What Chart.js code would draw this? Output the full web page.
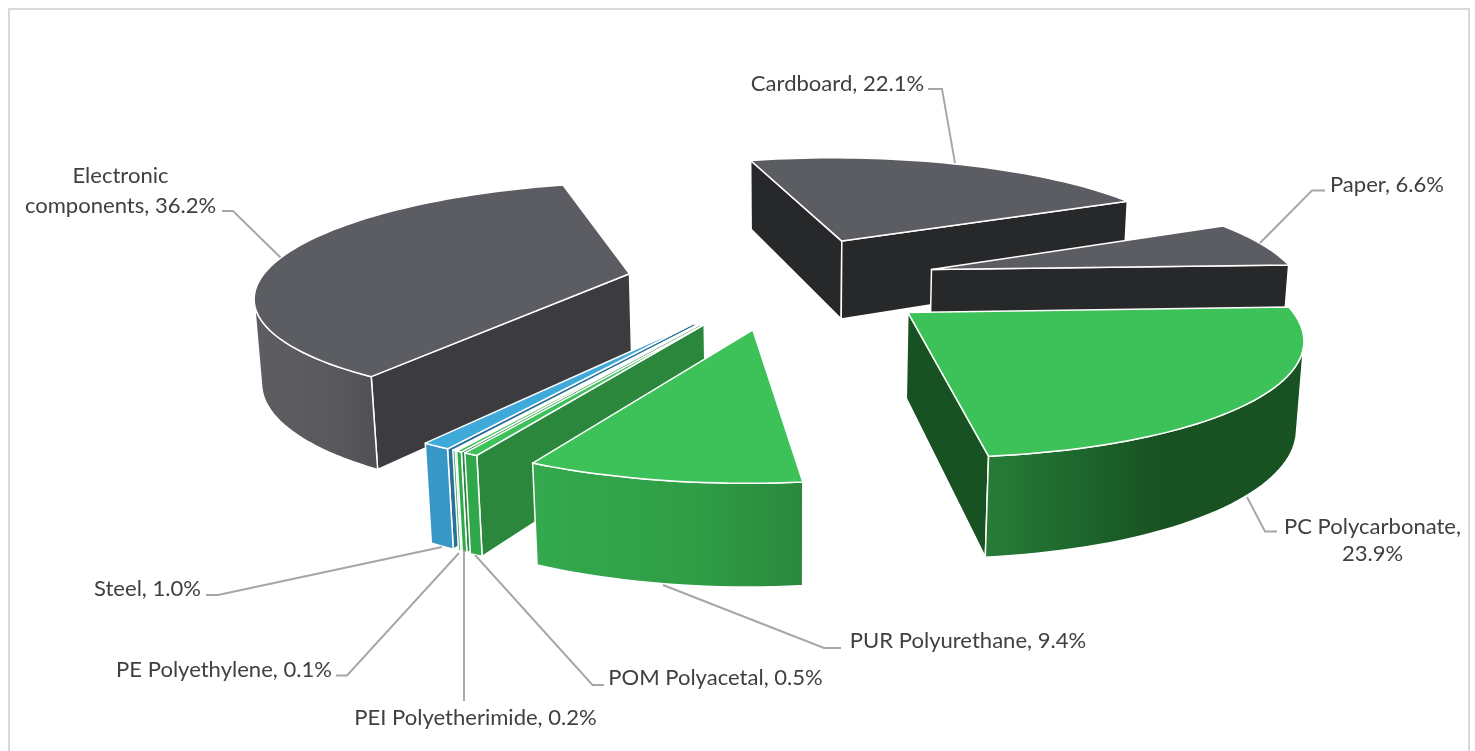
<!DOCTYPE html>
<html>
<head>
<meta charset="utf-8">
<title>Materials share</title>
<script src="https://cdn.jsdelivr.net/npm/chart.js@4"></script>
<style>
  html, body { margin: 0; background: #fff; overflow: hidden; }
  #frame { position: absolute; left: 8px; top: 8px; width: 1458px; height: 760px; border: 2px solid #d9d9d9; border-bottom: none; }
  #myChart { position: absolute; left: 0; top: 0; }
</style>
</head>
<body>
<div id="frame"></div>
<canvas id="myChart" width="1475" height="751"></canvas>
<script>
// chart values, clockwise
var categories = ['Cardboard', 'Paper', 'PC Polycarbonate', 'PUR Polyurethane', 'POM Polyacetal',
    'PEI Polyetherimide', 'PE Polyethylene', 'Steel', 'Electronic components'];
var shares = [22.1, 6.6, 23.9, 9.4, 0.5, 0.2, 0.1, 1.0, 36.2];

// slice colours
var topColors = ['#5c5d62', '#5c5d62', '#3cc258', '#3cc258', '#3cc258', '#3cc258', '#3cc258', '#3fa9da', '#5c5d62'];
var radialColors = ['#27282a', '#27282a', '#185222', '#2a883c', '#2b873b', '#2b873b', '#2b873b', '#2a7098', '#3c3b40'];
var arcStops = [
    [[0, '#27282a']],
    [[0, '#27282a']],
    [[0, '#277c37'], [0.2, '#206e30'], [0.55, '#185222'], [1, '#185222']],
    [[0, '#34a94d'], [0.6, '#2f9e46'], [1, '#2a883c']],
    [[0, '#2ea84a']],
    [[0, '#2ea84a']],
    [[0, '#2ea84a']],
    [[0, '#3797c6']],
    [[0, '#5d5d62'], [0.6, '#59595e'], [1, '#505055']]
];

// the view of the exploded pie, fitted to the picture (x, y, height, 1 -> screen)
var camera = [
    [390.668, 22.3770, 10.6729, 782.676],
    [-16.7549, -60.2613, 87.2695, 280.929],
    [0.0467236, 0.159037, 0.0134324, 1]
];
var pieRadius = 300;
var explode = 0.425;
var paintOrder = [0, 1, 2, 8, 7, 6, 5, 4, 3];

// labels and their leader lines, same order as categories
var labelBreak = [null, null, 'PC Polycarbonate,', null, null, null, null, null, 'Electronic'];
var labelLeading = [0, 0, 27.5, 0, 0, 0, 0, 0, 30.5];
var labelSpots = [[837.5, 83.7], [1387, 184.7], [1372.5, 526.7], [968, 640.7], [715.5, 677.7], [475.5, 717.7], [224, 669.7], [147.5, 588.7], [120.5, 175.7]];
var leaders = [
    [[928, 89], [942, 89], [955, 163]],
    [[1325, 190.5], [1312, 190.5], [1260, 243]],
    [[1247, 497], [1265, 531.5], [1277, 531.5]],
    [[663, 585], [824, 648], [841, 648]],
    [[475, 555], [592.5, 685], [604, 685]],
    [[464, 550], [464, 701]],
    [[459, 553], [347, 675.5], [336, 675.5]],
    [[442, 547], [218, 595], [206, 595]],
    [[222, 211], [233, 211], [280.5, 257.5]]
];

function project(x, y, z) {
    var w = camera[2][0] * x + camera[2][1] * y + camera[2][2] * z + camera[2][3];
    return {
        x: (camera[0][0] * x + camera[0][1] * y + camera[0][2] * z + camera[0][3]) / w,
        y: (camera[1][0] * x + camera[1][1] * y + camera[1][2] * z + camera[1][3]) / w
    };
}

// slice outline points, read from the arc element the library laid out
function sliceGeometry(arc) {
    var a0 = arc.startAngle + Math.PI / 2, a1 = arc.endAngle + Math.PI / 2;
    var mid = (a0 + a1) / 2;
    var ox = explode * Math.sin(mid), oy = explode * Math.cos(mid);
    var rim = [];
    var steps = Math.max(2, Math.ceil((a1 - a0) / 0.03));
    for (var k = 0; k <= steps; k++) {
        var a = a0 + (a1 - a0) * k / steps;
        rim.push([ox + Math.sin(a), oy + Math.cos(a)]);
    }
    return { apex: [ox, oy], rim: rim, a0: a0, a1: a1, cx: arc.x, cy: arc.y, r: arc.outerRadius };
}

function tracePath(ctx, pts) {
    ctx.beginPath();
    pts.forEach(function (p, i) { i ? ctx.lineTo(p.x, p.y) : ctx.moveTo(p.x, p.y); });
    ctx.closePath();
}

function signedArea(pts) {
    var s = 0;
    for (var i = 0; i < pts.length; i++) {
        var a = pts[i], b = pts[(i + 1) % pts.length];
        s += a.x * b.y - b.x * a.y;
    }
    return s;
}

function strokeEdge(ctx) {
    ctx.lineJoin = 'round';
    ctx.strokeStyle = '#ffffff';
    ctx.lineWidth = 1.5;
    ctx.stroke();
}

function drawFace(ctx, world, fill) {
    var pts = [];
    world.forEach(function (p) { pts.push(project(p[0], p[1], 0)); });
    world.slice().reverse().forEach(function (p) { pts.push(project(p[0], p[1], 1)); });
    tracePath(ctx, pts);
    ctx.fillStyle = typeof fill === 'function' ? fill(pts) : fill;
    ctx.fill();
    strokeEdge(ctx);
}

function facesViewer(a, b) {
    return signedArea([project(a[0], a[1], 0), project(b[0], b[1], 0), project(b[0], b[1], 1), project(a[0], a[1], 1)]) < 0;
}

function drawWalls(ctx, g, i) {
    var rim = g.rim;
    if (facesViewer(g.apex, rim[0])) drawFace(ctx, [g.apex, rim[0]], radialColors[i]);
    if (facesViewer(rim[rim.length - 1], g.apex)) drawFace(ctx, [rim[rim.length - 1], g.apex], radialColors[i]);
    var run = [];
    var flush = function () {
        if (run.length > 1) {
            drawFace(ctx, run, function (pts) {
                var xs = pts.map(function (p) { return p.x; });
                var grad = ctx.createLinearGradient(Math.min.apply(null, xs), 0, Math.max.apply(null, xs), 0);
                arcStops[i].forEach(function (s) { grad.addColorStop(s[0], s[1]); });
                return grad;
            });
        }
        run = [];
    };
    for (var k = 0; k < rim.length - 1; k++) {
        if (facesViewer(rim[k], rim[k + 1])) {
            if (!run.length) run.push(rim[k]);
            run.push(rim[k + 1]);
        } else {
            flush();
        }
    }
    flush();
}

// library arc, placed on the top face of its slice
function drawTop(ctx, arc, g) {
    var outline = [project(g.apex[0], g.apex[1], 0)];
    g.rim.forEach(function (p) { outline.push(project(p[0], p[1], 0)); });

    // same three corners in the pie as the library laid it out, before the explode
    var c0 = { x: g.cx, y: g.cy };
    var c1 = { x: g.cx + g.r * Math.sin(g.a0), y: g.cy - g.r * Math.cos(g.a0) };
    var c2 = { x: g.cx + g.r * Math.sin(g.a1), y: g.cy - g.r * Math.cos(g.a1) };
    var s0 = outline[0], s1 = outline[1], s2 = outline[outline.length - 1];
    var ux = c1.x - c0.x, uy = c1.y - c0.y, vx = c2.x - c0.x, vy = c2.y - c0.y;
    var det = ux * vy - vx * uy;
    var a = ((s1.x - s0.x) * vy - (s2.x - s0.x) * uy) / det;
    var c = ((s2.x - s0.x) * ux - (s1.x - s0.x) * vx) / det;
    var b = ((s1.y - s0.y) * vy - (s2.y - s0.y) * uy) / det;
    var d = ((s2.y - s0.y) * ux - (s1.y - s0.y) * vx) / det;
    var e = s0.x - a * c0.x - c * c0.y;
    var f = s0.y - b * c0.x - d * c0.y;

    // the perspective bends the arc a little, so draw it oversize and trim to the outline
    var mx = (c0.x + c1.x + c2.x) / 3, my = (c0.y + c1.y + c2.y) / 3;
    ctx.save();
    tracePath(ctx, outline);
    ctx.clip();
    ctx.transform(a, b, c, d, e, f);
    ctx.translate(mx, my);
    ctx.scale(1.25, 1.25);
    ctx.translate(-mx, -my);
    arc.draw(ctx);
    ctx.restore();
    tracePath(ctx, outline);
    strokeEdge(ctx);
}

var exploded3d = {
    id: 'exploded3d',
    beforeDatasetsDraw: function (chart) {
        var ctx = chart.ctx;
        var arcs = chart.getDatasetMeta(0).data;
        ctx.save();
        paintOrder.forEach(function (i) {
            var g = sliceGeometry(arcs[i]);
            drawWalls(ctx, g, i);
            drawTop(ctx, arcs[i], g);
        });
        ctx.restore();
        drawLabels(ctx);
        return false;
    }
};

function drawLabels(ctx) {
    ctx.save();
    ctx.strokeStyle = '#a6a6a6';
    ctx.lineWidth = 1.9;
    leaders.forEach(function (line) {
        ctx.beginPath();
        line.forEach(function (p, i) { i ? ctx.lineTo(p[0], p[1]) : ctx.moveTo(p[0], p[1]); });
        ctx.stroke();
    });
    ctx.fillStyle = '#404040';
    ctx.font = '22.05px Lato';
    ctx.textAlign = 'center';
    ctx.textBaseline = 'middle';
    categories.forEach(function (name, i) {
        var text = name + ', ' + shares[i].toFixed(1) + '%';
        var spot = labelSpots[i];
        if (labelBreak[i]) {
            var head = labelBreak[i];
            ctx.fillText(head, spot[0], spot[1]);
            ctx.fillText(text.slice(head.length).trim(), spot[0], spot[1] + labelLeading[i]);
        } else {
            ctx.fillText(text, spot[0], spot[1]);
        }
    });
    ctx.restore();
}

new Chart(document.getElementById('myChart'), {
    type: 'pie',
    data: {
        labels: categories,
        datasets: [{
            data: shares,
            backgroundColor: topColors,
            borderWidth: 0
        }]
    },
    options: {
        responsive: false,
        animation: false,
        radius: pieRadius,
        layout: { padding: 0 },
        plugins: { legend: { display: false }, tooltip: { enabled: false } }
    },
    plugins: [exploded3d]
});
</script>
</body>
</html>
